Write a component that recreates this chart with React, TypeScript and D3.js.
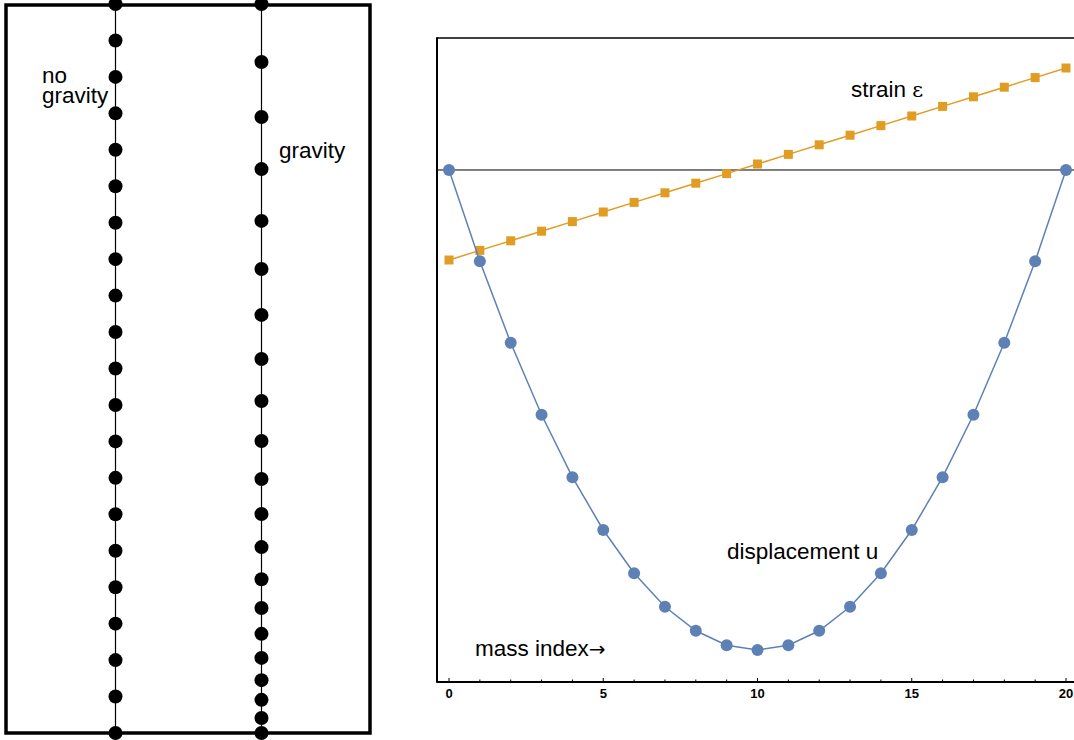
import React from "react";
import * as d3 from "d3";

// ---------- data ----------
const massIndex = [0, 1, 2, 3, 4, 5, 6, 7, 8, 9, 10, 11, 12, 13, 14, 15, 16, 17, 18, 19, 20];
// left panel: vertical positions of the masses (0 = top support, 20 = bottom support)
const noGravityPos = [0, 1, 2, 3, 4, 5, 6, 7, 8, 9, 10, 11, 12, 13, 14, 15, 16, 17, 18, 19, 20];
const gravityPos = [0, 1.59, 3.1, 4.53, 5.95, 7.27, 8.53, 9.74, 10.89, 11.99, 13.03, 13.99, 14.9, 15.78, 16.57, 17.28, 17.94, 18.55, 19.09, 19.59, 20];
// right panel
const displacement = [0, -19, -36, -51, -64, -75, -84, -91, -96, -99, -100, -99, -96, -91, -84, -75, -64, -51, -36, -19, 0];
const strain = [-18.75, -16.75, -14.75, -12.75, -10.75, -8.75, -6.75, -4.75, -2.75, -0.75, 1.25, 3.25, 5.25, 7.25, 9.25, 11.25, 13.25, 15.25, 17.25, 19.25, 21.25];
const majorTicks = [0, 5, 10, 15, 20];
const minorTicks = [1, 2, 3, 4, 6, 7, 8, 9, 11, 12, 13, 14, 16, 17, 18, 19];

const BLUE = "#5E81B5";
const ORANGE = "#E19C24";
const FONT = "'Liberation Sans', Arial, Helvetica, sans-serif";

export default function App() {
  const W = 1074, H = 740;

  // left panel scales
  const yL = d3.scaleLinear().domain([0, 20]).range([4, 733]);
  const col1 = 115.5, col2 = 261.5;

  // right panel scales
  const x = d3.scaleLinear().domain([0, 20]).range([449, 1066]);
  const y = d3.scaleLinear().domain([-106.67, 27.5]).range([682, 38]);
  const frameLeft = 437;

  const dispLine = d3.line<number>().x((_, i) => x(massIndex[i])).y((d) => y(d))(displacement) || "";
  const strainLine = d3.line<number>().x((_, i) => x(massIndex[i])).y((d) => y(d))(strain) || "";

  return (
    <svg width={W} height={H} style={{ position: "absolute", left: 0, top: 0, background: "#fff" }}
      fontFamily={FONT}>
      {/* ---------- left panel ---------- */}
      <line x1={col1} x2={col1} y1={yL(0)} y2={yL(20)} stroke="#000" strokeWidth={1.2} />
      <line x1={col2} x2={col2} y1={yL(0)} y2={yL(20)} stroke="#000" strokeWidth={1.2} />
      <rect x={6} y={5} width={364} height={728} fill="none" stroke="#000" strokeWidth={3.5} />
      {noGravityPos.map((p, i) => (
        <circle key={"ng" + i} cx={col1} cy={yL(p)} r={7} fill="#000" />
      ))}
      {gravityPos.map((p, i) => (
        <circle key={"g" + i} cx={col2} cy={yL(p)} r={7} fill="#000" />
      ))}
      <text fontSize={22.5}>
        <tspan x={42} y={83}>no</tspan>
        <tspan x={42} y={103}>gravity</tspan>
      </text>
      <text x={279} y={158} fontSize={22.5}>gravity</text>

      {/* ---------- right panel ---------- */}
      <line x1={frameLeft} x2={W} y1={38} y2={38} stroke="#000" strokeWidth={1.5} />
      <line x1={frameLeft} x2={frameLeft} y1={37.25} y2={682.75} stroke="#000" strokeWidth={2} />
      <line x1={frameLeft} x2={W} y1={y(0)} y2={y(0)} stroke="#000" strokeWidth={1} />

      <path d={strainLine} fill="none" stroke={ORANGE} strokeWidth={1.5} />
      {strain.map((v, i) => (
        <rect key={"s" + i} x={x(massIndex[i]) - 4.5} y={y(v) - 4.5} width={9} height={9} fill={ORANGE} />
      ))}
      <path d={dispLine} fill="none" stroke={BLUE} strokeWidth={1.5} />
      {displacement.map((v, i) => (
        <circle key={"d" + i} cx={x(massIndex[i])} cy={y(v)} r={6} fill={BLUE} />
      ))}

      {/* x axis */}
      <line x1={frameLeft} x2={W} y1={682} y2={682} stroke="#000" strokeWidth={2} />
      {majorTicks.map((t) => (
        <line key={"M" + t} x1={x(t)} x2={x(t)} y1={682} y2={678} stroke="#000" strokeWidth={1} />
      ))}
      {minorTicks.map((t) => (
        <line key={"m" + t} x1={x(t)} x2={x(t)} y1={682} y2={679.5} stroke="#000" strokeWidth={1} />
      ))}
      {majorTicks.map((t) => (
        <text key={"L" + t} x={x(t)} y={698} fontSize={13} fontWeight="bold" textAnchor="middle">{t}</text>
      ))}

      <text x={851} y={97} fontSize={22.5}>strain <tspan fontFamily="'DejaVu Serif', serif" fontSize={21}>ε</tspan></text>
      <text x={727} y={559} fontSize={22.5}>displacement u</text>
      <text x={475} y={656} fontSize={22.5}>mass index<tspan fontFamily="'DejaVu Sans', sans-serif" fontSize={20}>→</tspan></text>
    </svg>
  );
}
